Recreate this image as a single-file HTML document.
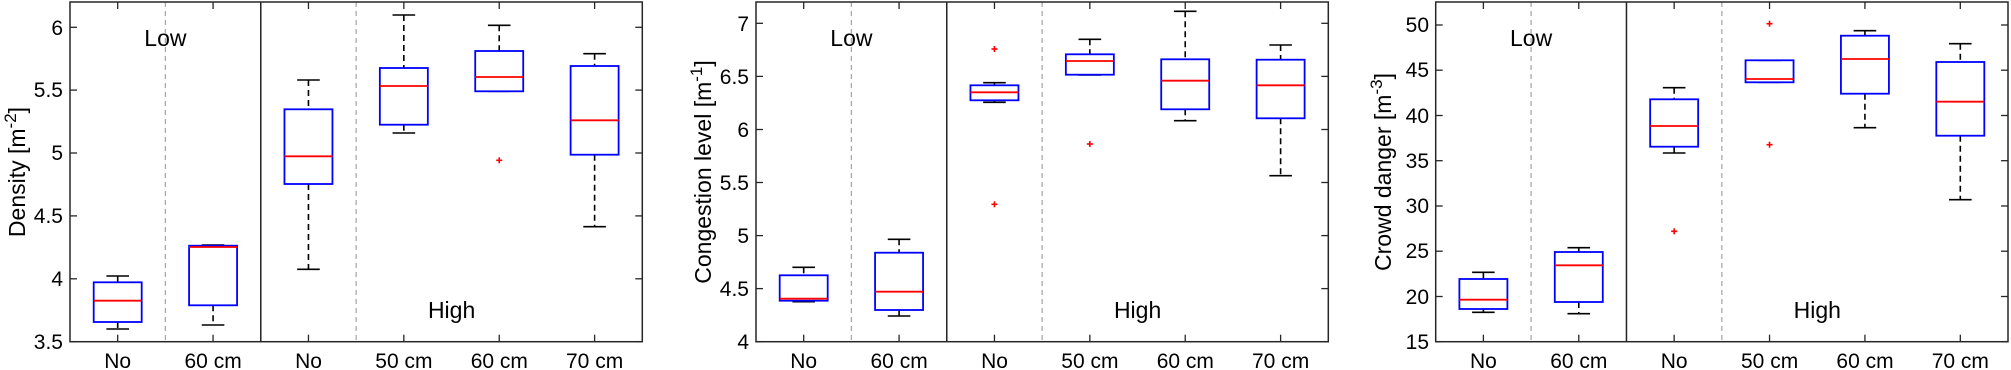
<!DOCTYPE html>
<html><head><meta charset="utf-8"><style>
html,body{margin:0;padding:0;background:#fff;}
svg{display:block;font-family:"Liberation Sans",Arial,sans-serif;}
</style></head><body>
<svg id="s" width="2011" height="370" viewBox="0 0 2011 370" xmlns="http://www.w3.org/2000/svg">
<g font-size="21" fill="#000">
<g text-anchor="end">
<text x="63" y="349">3.5</text><text x="63" y="286">4</text><text x="63" y="223">4.5</text><text x="63" y="160">5</text><text x="63" y="97">5.5</text><text x="63" y="35">6</text>
<text x="749" y="349">4</text><text x="749" y="296">4.5</text><text x="749" y="243">5</text><text x="749" y="190">5.5</text><text x="749" y="137">6</text><text x="749" y="84">6.5</text><text x="749" y="31">7</text>
<text x="1429" y="349">15</text><text x="1429" y="304">20</text><text x="1429" y="258">25</text><text x="1429" y="213">30</text><text x="1429" y="168">35</text><text x="1429" y="123">40</text><text x="1429" y="77">45</text><text x="1429" y="32">50</text>
</g>
<g text-anchor="middle">
<text x="117.7" y="368">No</text><text x="213.1" y="368">60 cm</text><text x="308.5" y="368">No</text><text x="403.9" y="368">50 cm</text><text x="499.3" y="368">60 cm</text><text x="594.6" y="368">70 cm</text>
<text x="803.7" y="368">No</text><text x="899.1" y="368">60 cm</text><text x="994.5" y="368">No</text><text x="1089.9" y="368">50 cm</text><text x="1185.3" y="368">60 cm</text><text x="1280.6" y="368">70 cm</text>
<text x="1483.4" y="368">No</text><text x="1578.8" y="368">60 cm</text><text x="1674.2" y="368">No</text><text x="1769.6" y="368">50 cm</text><text x="1865" y="368">60 cm</text><text x="1960.3" y="368">70 cm</text>
<g font-size="23">
<text x="165.4" y="46">Low</text><text x="851.4" y="46">Low</text><text x="1531.1" y="46">Low</text>
<text x="451.6" y="318">High</text><text x="1137.6" y="318">High</text><text x="1817.3" y="318">High</text>
</g>
<g font-size="23">
<text transform="translate(25,172) rotate(-90)">Density [m<tspan dy="-9" font-size="17">-2</tspan><tspan dy="9">]</tspan></text>
<text transform="translate(711,172) rotate(-90)">Congestion level [m<tspan dy="-9" font-size="17">-1</tspan><tspan dy="9">]</tspan></text>
<text transform="translate(1391,172) rotate(-90)">Crowd danger [m<tspan dy="-9" font-size="17">-3</tspan><tspan dy="9">]</tspan></text>
</g>
</g>
</g>
<g id="g"></g>
</svg>
<script>
var P=[
{l:70,yt:[341.7,278.8,215.9,153,90.1,27.3],b:[
[276,282.3,300.7,322,329],[245,245.7,247,305.3,325],[80,109.3,156.3,184,269.3],[15,68,86,124.7,133],[25.3,51,77,91.3,91.3,[160.3]],[53.7,66,120.3,154.7,226.7]]},
{l:756,yt:[341.7,288.6,235.6,182.5,129.5,76.4,23.3],b:[
[267.3,275.3,298.7,300.7,301.7],[239.3,252.7,291.7,310,316],[82.7,85.3,92.3,100.3,102.3,[49,204.3]],[39.3,54.3,61,74.7,75,[144]],[11.3,59.3,80.7,109.3,120.7],[45,59.7,85.3,118.3,175.7]]},
{l:1435.7,yt:[341.7,296.5,251.2,206,160.7,115.5,70.2,25],b:[
[272.3,279,299.7,309,312.3],[247.7,252,265.3,302,313.7],[87.7,99.3,126,146.7,153,[231.3]],[60.3,60.3,79,82.3,82.3,[23.7,144.7]],[30.7,35.7,59,93.7,127.7],[43.7,62,101.7,135.7,199.7]]}
];
var W=572.3,T=2,B=341.7,s='';
function L(x1,y1,x2,y2,c,w,d){s+='<line x1="'+x1+'" y1="'+y1+'" x2="'+x2+'" y2="'+y2+'" stroke="'+c+'" stroke-width="'+w+'"'+(d?' stroke-dasharray="'+d+'"':'')+'/>';}
P.forEach(function(p){
var l=p.l,r=l+W,sp=W/6;
L(l+sp,T,l+sp,B,'#aaa',1.3,'5,4');L(l+3*sp,T,l+3*sp,B,'#aaa',1.3,'5,4');
L(l+2*sp,T,l+2*sp,B,'#222',1.5);
p.yt.forEach(function(y){L(l,y,l+7,y,'#262626',1.3);L(r,y,r-7,y,'#262626',1.3);});
for(var i=0;i<6;i++){var x=l+sp*(i+.5);L(x,B,x,B-7,'#262626',1.3);L(x,T,x,T+7,'#262626',1.3);}
p.b.forEach(function(b,i){var x=l+sp*(i+.5);
L(x,b[0],x,b[1],'#000',1.6,'6,4');L(x,b[3],x,b[4],'#000',1.6,'6,4');
L(x-11.3,b[0],x+11.3,b[0],'#000',1.6);L(x-11.3,b[4],x+11.3,b[4],'#000',1.6);
s+='<rect x="'+(x-24)+'" y="'+b[1]+'" width="48" height="'+(b[3]-b[1])+'" fill="none" stroke="#0000ff" stroke-width="1.8"/>';
L(x-24,b[2],x+24,b[2],'#ff0000',1.8);
if(b[5])b[5].forEach(function(o){L(x-3,o,x+3,o,'#ff0000',1.6);L(x,o-3,x,o+3,'#ff0000',1.6);});
});
s+='<rect x="'+l+'" y="'+T+'" width="'+W+'" height="'+(B-T)+'" fill="none" stroke="#262626" stroke-width="1.5"/>';
});
document.getElementById('g').innerHTML=s;
</script>
</body></html>
